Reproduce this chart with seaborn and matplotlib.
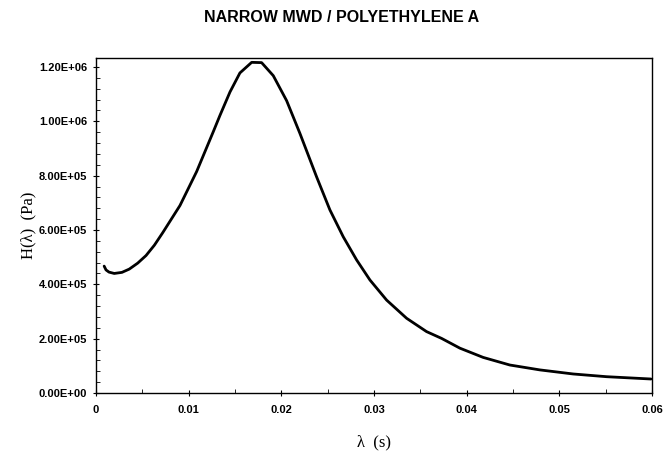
import numpy as np
import pandas as pd
import matplotlib
matplotlib.use("Agg")
import matplotlib.pyplot as plt
import seaborn as sns
from matplotlib.ticker import MultipleLocator, FuncFormatter

title = "NARROW MWD / POLYETHYLENE A"
x_label = "λ  (s)"
y_label = "H(λ)  (Pa)"

lam = [0.00088, 0.00108, 0.0014, 0.00197, 0.0028, 0.00359, 0.0045, 0.0054, 0.0063,
       0.0072, 0.00906, 0.01086, 0.01266, 0.01338, 0.01446, 0.01553, 0.0168,
       0.01787, 0.01913, 0.02057, 0.022, 0.0238,
       0.02524, 0.02668, 0.02812, 0.02956, 0.03136, 0.03352, 0.03567, 0.03729,
       0.03927, 0.04178, 0.04466, 0.0479, 0.0515, 0.0551, 0.0599]
H = [467e3, 453e3, 445e3, 440e3, 444e3, 456e3, 478e3, 506e3, 544e3,
     590e3, 690e3, 815e3, 962e3, 1022e3, 1108e3, 1178e3, 1217e3,
     1216e3, 1168e3, 1076e3, 956e3, 796e3,
     674e3, 575e3, 490e3, 416e3, 342e3, 275e3, 226e3, 201e3,
     165e3, 131e3, 103e3, 85e3, 70e3, 60e3, 51.5e3]

df = pd.DataFrame({"lam": lam, "H": H})

sns.set_style("ticks")
plt.rcParams["text.color"] = "black"
plt.rcParams["axes.labelcolor"] = "black"
plt.rcParams["xtick.color"] = "black"
plt.rcParams["ytick.color"] = "black"

fig = plt.figure(figsize=(6.72, 4.53), dpi=100)
ax = fig.add_axes([96/672, 60/453, (652-96)/672, (393-58)/453])

sns.lineplot(data=df, x="lam", y="H", ax=ax, color="black", linewidth=2.0, sort=False)

ax.set_xlim(0, 0.06)
ax.set_ylim(0, 1.233e6)
ax.xaxis.set_major_locator(MultipleLocator(0.01))
ax.xaxis.set_minor_locator(MultipleLocator(0.005))
ax.yaxis.set_major_locator(MultipleLocator(2e5))
ax.yaxis.set_minor_locator(MultipleLocator(4e4))
ax.xaxis.set_major_formatter(FuncFormatter(lambda v, p: "%g" % round(v, 4)))
ax.yaxis.set_major_formatter(FuncFormatter(lambda v, p: "%.2E" % v))

for s in ax.spines.values():
    s.set_linewidth(1.0)
    s.set_color("black")

ax.tick_params(axis="both", which="major", direction="inout", length=5, width=0.8,
               colors="black", labelcolor="black", labelsize=8)
ax.tick_params(axis="both", which="minor", direction="in", length=3, width=0.6, colors="black")
for lbl in ax.get_xticklabels() + ax.get_yticklabels():
    lbl.set_fontfamily("Liberation Sans")
    lbl.set_fontweight("bold")
    lbl.set_color("black")
ax.tick_params(axis="x", pad=6)
ax.tick_params(axis="y", pad=4)

ax.set_xlabel(x_label, family="Liberation Serif", fontsize=12, labelpad=14, color="black")
ax.set_ylabel(y_label, family="Liberation Serif", fontsize=12, labelpad=1.5, color="black")

fig.text(342/672, 1 - 18/453, title, ha="center", va="center", color="black",
         family="Liberation Sans", fontweight="bold", fontsize=11.5)

fig.savefig("out.png", dpi=100)
